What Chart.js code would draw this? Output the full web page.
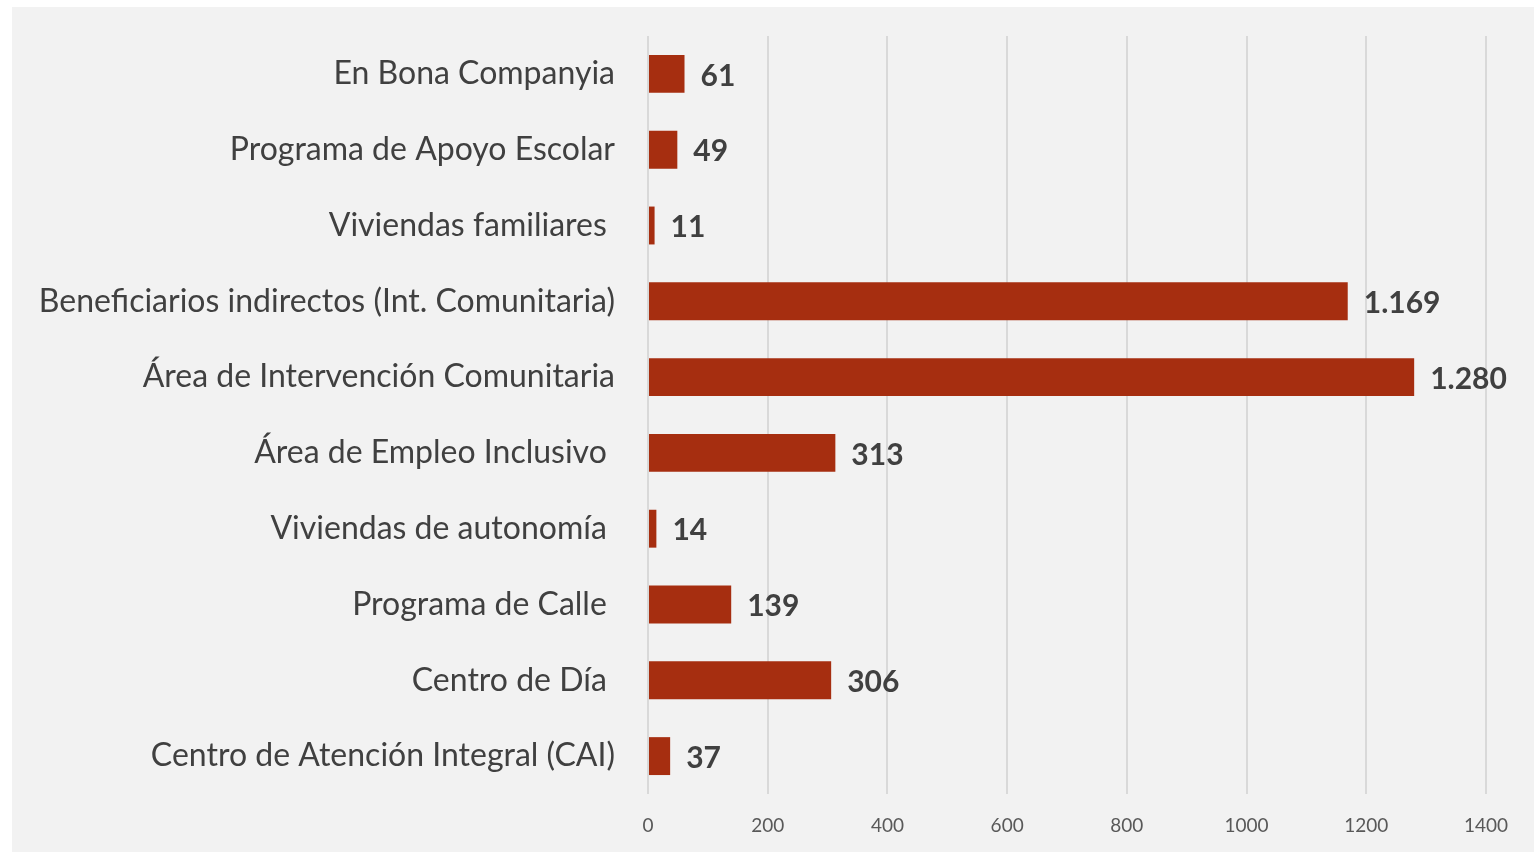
<!DOCTYPE html>
<html>
<head>
<meta charset="utf-8">
<script src="https://cdn.jsdelivr.net/npm/chart.js@4"></script>
<style>
  html, body { margin: 0; padding: 0; background: #ffffff; }
  #panel {
    position: absolute;
    left: 12px; top: 7px;
    width: 1522px; height: 845px;
    background: #f2f2f2;
  }
</style>
</head>
<body>
<div id="panel"><canvas id="myChart" width="1522" height="845"></canvas></div>
<script>
// categories top to bottom (trailing spaces as in the original labels)
const categories = [
  'En Bona Companyia',
  'Programa de Apoyo Escolar',
  'Viviendas familiares ',
  'Beneficiarios indirectos (Int. Comunitaria)',
  'Área de Intervención Comunitaria',
  'Área de Empleo Inclusivo ',
  'Viviendas de autonomía ',
  'Programa de Calle ',
  'Centro de Día ',
  'Centro de Atención Integral (CAI)'
];

const beneficiarios = [61, 49, 11, 1169, 1280, 313, 14, 139, 306, 37];

const tickValues = [0, 200, 400, 600, 800, 1000, 1200, 1400];

// 1169 -> "1.169"
function fmt(v) {
  return String(v).replace(/\B(?=(\d{3})+(?!\d))/g, '.');
}

// value labels at the end of each bar
const valueLabels = {
  id: 'valueLabels',
  afterDatasetsDraw(chart) {
    const ctx = chart.ctx;
    const meta = chart.getDatasetMeta(0);
    ctx.save();
    ctx.font = 'bold 30px Lato';
    ctx.fillStyle = '#404040';
    ctx.textAlign = 'left';
    ctx.textBaseline = 'middle';
    meta.data.forEach((bar, i) => {
      ctx.fillText(fmt(beneficiarios[i]), bar.x + 16, bar.y + 2);
    });
    ctx.restore();
  }
};

const data = {
  labels: categories,
  datasets: [{
    data: beneficiarios,
    backgroundColor: '#a62e10',
    borderWidth: 0,
    barPercentage: 0.5,
    categoryPercentage: 1.0
  }]
};

const config = {
  type: 'bar',
  data,
  options: {
    indexAxis: 'y',
    responsive: false,
    animation: false,
    layout: { padding: { top: 29, right: 48, bottom: 0, left: 0 } },
    plugins: {
      legend: { display: false },
      tooltip: { enabled: false }
    },
    scales: {
      x: {
        min: 0,
        max: 1400,
        afterBuildTicks(scale) {
          scale.ticks = tickValues.map(v => ({ value: v }));
        },
        afterFit(scale) {
          scale.height = 58;
        },
        grid: { color: '#d9d9d9', lineWidth: 2, drawTicks: false },
        border: { display: false },
        ticks: {
          padding: 20,
          color: '#595959',
          font: { family: 'Lato', size: 19 },
          callback: (v) => String(v)
        }
      },
      y: {
        afterFit(scale) {
          scale.width = 636;
          scale.paddingTop = 0;
          scale.paddingBottom = 0;
        },
        grid: { display: false, drawTicks: false },
        border: { display: false },
        ticks: {
          padding: 33,
          color: '#404040',
          font: { family: 'Lato', size: 32 }
        }
      }
    }
  },
  plugins: [valueLabels]
};

const myChart = new Chart(
  document.getElementById('myChart').getContext('2d'),
  config
);
</script>
</body>
</html>
